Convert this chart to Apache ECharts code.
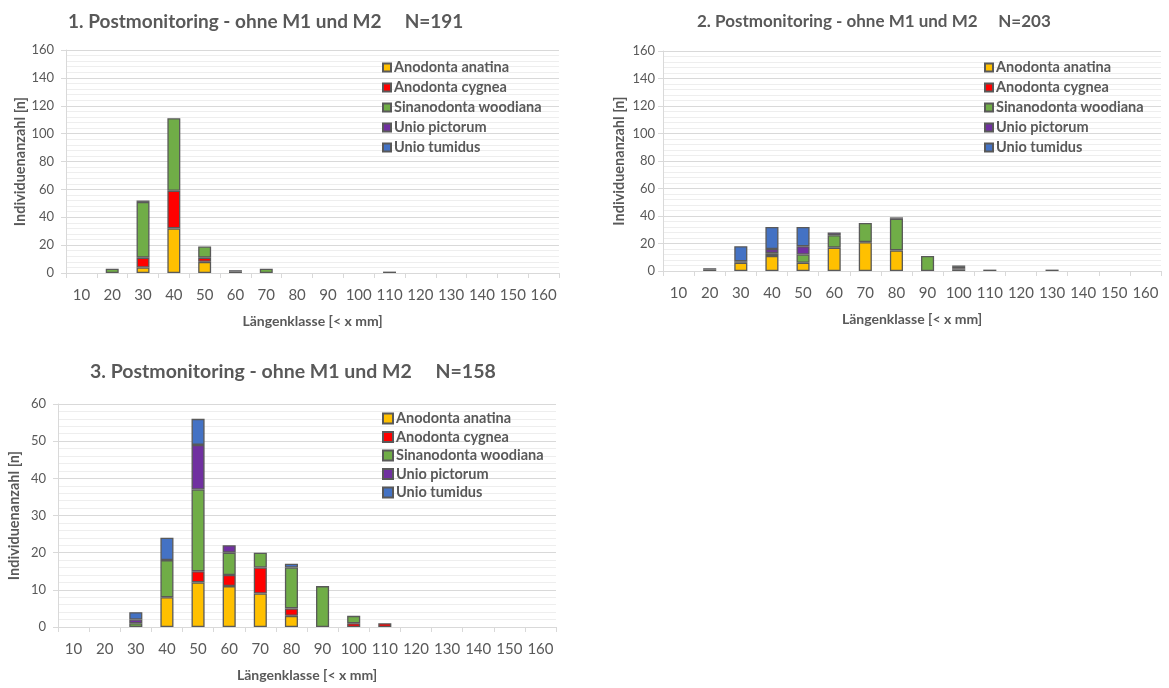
<!DOCTYPE html>
<html>
<head>
<meta charset="utf-8">
<script src="https://cdn.jsdelivr.net/npm/echarts@6/dist/echarts.min.js"></script>
<style>
  html, body { margin: 0; padding: 0; background: #ffffff; }
  #chart { width: 1169px; height: 688px; }
</style>
</head>
<body>
<div id="chart"></div>
<script>
// Length classes (upper bound, mm)
const categories = ['10','20','30','40','50','60','70','80','90','100','110','120','130','140','150','160'];
const species = ['Anodonta anatina', 'Anodonta cygnea', 'Sinanodonta woodiana', 'Unio pictorum', 'Unio tumidus'];
const speciesColors = ['#FFC000', '#FF0000', '#70AD47', '#7030A0', '#4472C4'];

// 1. Postmonitoring (N=191)
const pm1Anatina  = [0, 0, 4, 32, 8, 0, 0, 0, 0, 0, 1, 0, 0, 0, 0, 0];
const pm1Cygnea   = [0, 0, 7, 27, 3, 0, 0, 0, 0, 0, 0, 0, 0, 0, 0, 0];
const pm1Woodiana = [0, 3, 40, 52, 8, 0, 3, 0, 0, 0, 0, 0, 0, 0, 0, 0];
const pm1Pictorum = [0, 0, 1, 0, 0, 1, 0, 0, 0, 0, 0, 0, 0, 0, 0, 0];
const pm1Tumidus  = [0, 0, 0, 0, 0, 1, 0, 0, 0, 0, 0, 0, 0, 0, 0, 0];

// 2. Postmonitoring (N=203)
const pm2Anatina  = [0, 0, 6, 11, 6, 17, 21, 15, 0, 1, 0, 0, 1, 0, 0, 0];
const pm2Cygnea   = [0, 0, 0, 0, 0, 0, 0, 0, 0, 1, 0, 0, 0, 0, 0, 0];
const pm2Woodiana = [0, 0, 1, 2, 6, 9, 14, 23, 11, 1, 0, 0, 0, 0, 0, 0];
const pm2Pictorum = [0, 1, 0, 3, 6, 2, 0, 1, 0, 0, 0, 0, 0, 0, 0, 0];
const pm2Tumidus  = [0, 1, 11, 16, 14, 0, 0, 0, 0, 1, 1, 0, 0, 0, 0, 0];

// 3. Postmonitoring (N=158)
const pm3Anatina  = [0, 0, 0, 8, 12, 11, 9, 3, 0, 0, 0, 0, 0, 0, 0, 0];
const pm3Cygnea   = [0, 0, 0, 0, 3, 3, 7, 2, 0, 1, 1, 0, 0, 0, 0, 0];
const pm3Woodiana = [0, 0, 1, 10, 22, 6, 4, 11, 11, 2, 0, 0, 0, 0, 0, 0];
const pm3Pictorum = [0, 0, 1, 0, 12, 2, 0, 0, 0, 0, 0, 0, 0, 0, 0, 0];
const pm3Tumidus  = [0, 0, 2, 6, 7, 0, 0, 1, 0, 0, 0, 0, 0, 0, 0, 0];

const panels = [
  { title: '1. Postmonitoring - ohne M1 und M2     N=191', yMax: 160, yStep: 20,
    data: [pm1Anatina, pm1Cygnea, pm1Woodiana, pm1Pictorum, pm1Tumidus] },
  { title: '2. Postmonitoring - ohne M1 und M2     N=203', yMax: 160, yStep: 20,
    data: [pm2Anatina, pm2Cygnea, pm2Woodiana, pm2Pictorum, pm2Tumidus] },
  { title: '3. Postmonitoring - ohne M1 und M2     N=158', yMax: 60, yStep: 10,
    data: [pm3Anatina, pm3Cygnea, pm3Woodiana, pm3Pictorum, pm3Tumidus] }
];

const FONT = 'Lato';
const TEXT = '#595959';

// Per-panel placement
const layout = [
  { grid: { left: 66, top: 50, width: 493, height: 223 }, yLabelMargin: 12,
    title: { left: 63, top: 7, size: 19 }, legend: { left: 377, top: 55, size: 8, gap: 5 } },
  { grid: { left: 663, top: 51, width: 498, height: 220 }, yLabelMargin: 8,
    title: { left: 692, top: 8, size: 17 }, legend: { left: 979, top: 55, size: 8, gap: 5 } },
  { grid: { left: 58, top: 404, width: 498, height: 223 }, yLabelMargin: 12,
    title: { left: 85, top: 357, size: 19.5 }, legend: { left: 377, top: 406, size: 10, gap: 3.5 } }
];

const option = {
  animation: false,
  backgroundColor: '#ffffff',
  textStyle: { fontFamily: FONT, color: TEXT },
  title: [], legend: [], grid: [], xAxis: [], yAxis: [], series: []
};

panels.forEach((p, i) => {
  const L = layout[i];
  option.title.push({
    text: p.title, left: L.title.left, top: L.title.top,
    textStyle: { fontFamily: FONT, fontSize: L.title.size, fontWeight: 'bold', color: TEXT }
  });
  option.legend.push({
    orient: 'vertical', left: L.legend.left, top: L.legend.top,
    itemWidth: L.legend.size, itemHeight: L.legend.size, itemGap: L.legend.gap,
    icon: 'rect', data: species,
    textStyle: { fontFamily: FONT, fontSize: 14.5, fontWeight: 'bold', color: TEXT, padding: [0, 0, 0, -2] }
  });
  option.grid.push(Object.assign({ containLabel: false }, L.grid));
  option.xAxis.push({
    type: 'category', gridIndex: i, data: categories,
    name: 'Längenklasse [< x mm]', nameLocation: 'middle', nameGap: 41,
    nameTextStyle: { fontFamily: FONT, fontSize: 14, fontWeight: 'bold', color: TEXT },
    axisLine: { lineStyle: { color: '#D9D9D9', width: 1 } },
    axisTick: { show: true, length: 5, lineStyle: { color: '#D9D9D9' } },
    axisLabel: { fontFamily: FONT, fontSize: 15, color: TEXT, margin: 15, interval: 0 },
    splitLine: { show: false }
  });
  option.yAxis.push({
    type: 'value', gridIndex: i, min: 0, max: p.yMax, interval: p.yStep,
    name: 'Individuenanzahl [n]', nameLocation: 'middle', nameGap: 36, nameRotate: 90,
    nameTextStyle: { fontFamily: FONT, fontSize: 14.5, fontWeight: 'bold', color: TEXT },
    axisLine: { show: true, lineStyle: { color: '#D9D9D9', width: 1 } },
    axisTick: { show: true, length: 5, lineStyle: { color: '#D9D9D9' } },
    axisLabel: { fontFamily: FONT, fontSize: 13, color: TEXT, margin: L.yLabelMargin },
    splitLine: { show: true, lineStyle: { color: '#D9D9D9', width: 1 } },
    minorTick: { show: false, splitNumber: 5 },
    minorSplitLine: { show: true, lineStyle: { color: '#EEEEEE', width: 1 } }
  });
  p.data.forEach((vals, s) => {
    option.series.push({
      name: species[s], type: 'bar', stack: 'pm' + (i + 1),
      xAxisIndex: i, yAxisIndex: i, barWidth: '42%',
      data: vals.map(v => (v === 0 ? '-' : v)),
      itemStyle: { color: speciesColors[s], borderColor: '#595959', borderWidth: 1.3 },
      emphasis: { disabled: true }
    });
  });
});

const chart = echarts.init(document.getElementById('chart'), null, { renderer: 'canvas' });
chart.setOption(option);
</script>
</body>
</html>
